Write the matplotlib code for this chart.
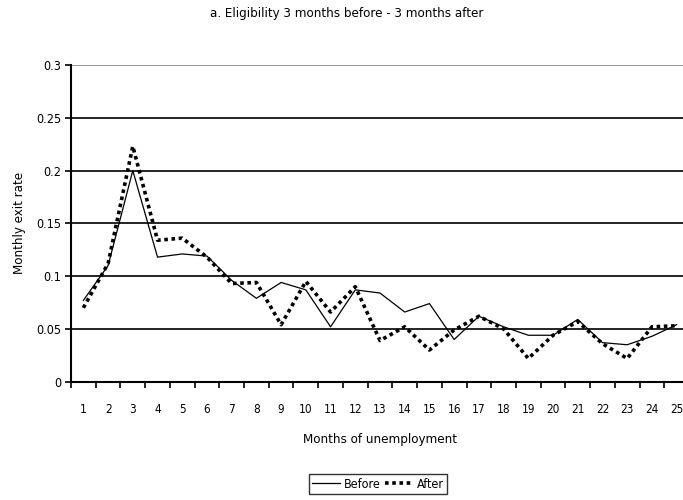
import matplotlib
matplotlib.use('Agg')
import matplotlib.pyplot as plt
import numpy as np

# -------- data -------- #
months = list(range(1, 26))
before = [0.077, 0.110, 0.200, 0.118, 0.121, 0.119, 0.096, 0.079, 0.094, 0.087,
          0.052, 0.087, 0.084, 0.066, 0.074, 0.040, 0.062, 0.052, 0.044, 0.044,
          0.059, 0.037, 0.035, 0.043, 0.054]
after = [0.070, 0.112, 0.223, 0.134, 0.136, 0.118, 0.093, 0.094, 0.054, 0.095,
         0.066, 0.090, 0.039, 0.052, 0.030, 0.049, 0.062, 0.050, 0.022, 0.044,
         0.057, 0.036, 0.022, 0.052, 0.053]
y_ticks = [0, 0.05, 0.1, 0.15, 0.2, 0.25, 0.3]
y_labels = ['0', '0.05', '0.1', '0.15', '0.2', '0.25', '0.3']

plt.rcParams['font.family'] = ['DejaVu Sans']
plt.rcParams['font.stretch'] = 'condensed'

fig = plt.figure(figsize=(6.83, 5), dpi=100)
# plot area runs a bit past the right edge of the picture, like the original
ax = fig.add_axes([71 / 683, 1 - 381.7 / 500, 618 / 683, 316.7 / 500])

for y in y_ticks[1:]:
    ax.axhline(y, color='black' if y < 0.3 else '#888888', lw=1.2, zorder=1)

ax.plot(months, before, color='black', lw=0.9, label='Before', zorder=3)
ax.plot(months, after, color='black', lw=2.6, linestyle=(0, (1, 1)),
        label='After', zorder=4)

ax.set_xlim(0.5, 25.5)
ax.set_ylim(0, 0.3)
ax.set_yticks(y_ticks)
ax.set_yticklabels(y_labels)
ax.set_xticks(months)
ax.set_xticks(np.arange(0.5, 26, 1), minor=True)
ax.tick_params(axis='x', which='major', length=0, pad=15, labelsize=8.5)
ax.tick_params(axis='x', which='minor', length=4, width=1.2, direction='out')
ax.tick_params(axis='y', length=4, width=1.2, pad=3, labelsize=9)

for side in ['top', 'right']:
    ax.spines[side].set_visible(False)
ax.spines['left'].set_linewidth(1.5)
ax.spines['bottom'].set_linewidth(1.5)

ax.set_ylabel('Monthly exit rate', fontsize=9.5, labelpad=7)
fig.text(380 / 683, 1 - 440 / 500, 'Months of unemployment', ha='center',
         va='center', fontsize=9.5)
fig.text(347 / 683, 1 - 14 / 500, 'a. Eligibility 3 months before - 3 months after',
         ha='center', va='center', fontsize=9.5)

fig.legend(loc='center', bbox_to_anchor=(378 / 683, 1 - 484 / 500), ncol=2,
           frameon=True, fancybox=False, edgecolor='black', fontsize=9,
           handlelength=2.2, handletextpad=0.3, columnspacing=0.4,
           borderpad=0.3, borderaxespad=0)

fig.savefig('out.png', dpi=100)
